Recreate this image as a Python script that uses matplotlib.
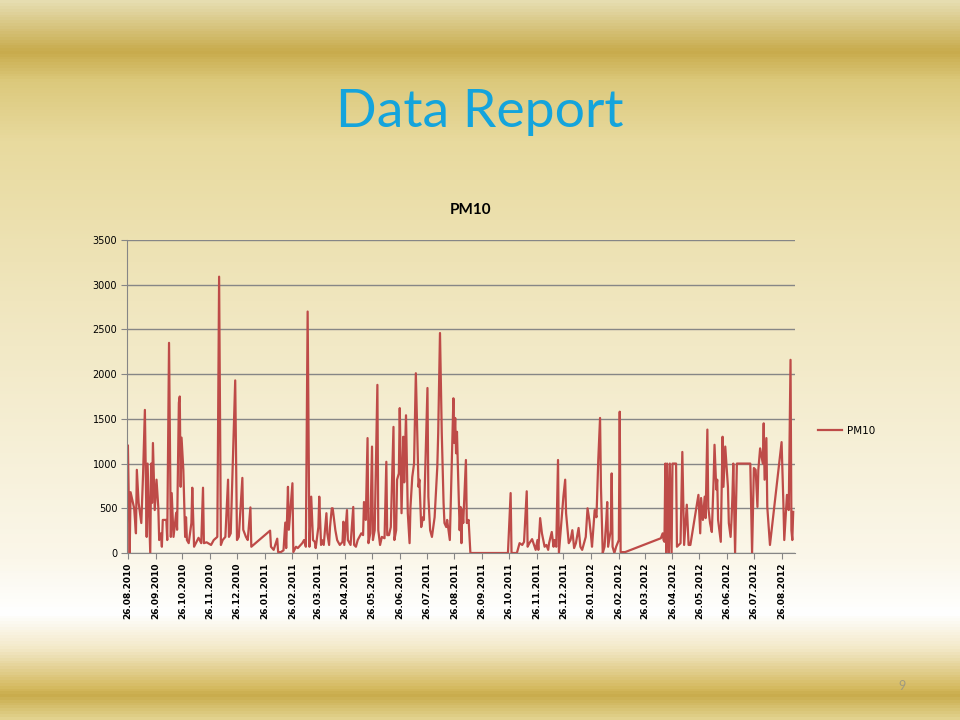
import datetime as dt
import numpy as np
import matplotlib
matplotlib.use('Agg')
import matplotlib.pyplot as plt
import matplotlib.dates as mdates
from matplotlib.colors import LinearSegmentedColormap

# ------------- data -------------
start = dt.date(2010, 8, 26)

days = [0, 2, 3, 7, 9, 10, 12, 15, 17, 19, 21, 22, 25, 26, 27, 28, 30, 32, 34, 35,
        37, 38, 39, 43, 44, 46, 48, 49, 51, 54, 55, 57, 58, 59, 60, 62, 64, 65, 66, 68,
        71, 72, 74, 76, 79, 82, 84, 85, 88, 93, 96, 100, 102, 104, 106, 109, 112, 113, 115, 120,
        122, 124, 128, 129, 132, 134, 137, 138, 159, 160, 163, 167, 168, 171, 174, 176, 177, 179, 180, 184,
        185, 188, 190, 195, 197, 199, 201, 203, 205, 207, 209, 210, 213, 214, 216, 217, 219, 222, 223, 225,
        226, 228, 229, 232, 234, 235, 237, 240, 241, 242, 245, 246, 249, 252, 253, 255, 257, 261, 263, 264,
        266, 268, 269, 271, 273, 274, 276, 279, 280, 282, 284, 287, 289, 290, 292, 294, 297, 298, 300, 301,
        303, 304, 306, 308, 309, 311, 312, 313, 315, 316, 318, 320, 322, 325, 326, 328, 330, 331, 335, 336,
        338, 340, 343, 346, 347, 349, 351, 353, 354, 356, 357, 359, 360, 363, 364, 365, 366, 367, 368, 369,
        371, 372, 373, 374, 375, 378, 379, 381, 383, 425, 428, 429, 435, 438, 441, 443, 446, 447, 449, 452,
        453, 456, 458, 459, 461, 463, 466, 468, 470, 471, 474, 476, 477, 479, 481, 482, 485, 487, 489, 490,
        493, 495, 497, 499, 501, 504, 506, 508, 512, 514, 516, 518, 519, 522, 524, 526, 528, 529, 531, 533,
        535, 536, 537, 540, 541, 542, 544, 546, 549, 550, 551, 556, 596, 598, 599, 600, 601, 602, 603, 605,
        606, 608, 609, 613, 614, 618, 620, 622, 625, 627, 629, 638, 640, 641, 643, 645, 646, 648, 649, 651,
        653, 655, 656, 658, 659, 660, 663, 665, 666, 668, 671, 672, 674, 675, 676, 677, 679, 681, 696, 698,
        700, 702, 704, 705, 707, 710, 711, 712, 714, 715, 718, 731, 733, 734, 737, 739, 741, 742, 743, 744]

pm10 = [1200, 0, 680, 500, 220, 930, 560, 335, 890, 1600, 180, 1000, 0, 1000, 560, 1230, 480, 820, 510, 145,
        220, 70, 370, 370, 145, 2350, 180, 670, 180, 450, 260, 1680, 1750, 740, 1290, 930, 180, 400, 145, 110,
        335, 730, 70, 110, 170, 110, 730, 110, 120, 90, 145, 180, 3090, 90, 145, 180, 820, 180, 220, 1930,
        145, 180, 840, 260, 180, 145, 510, 70, 250, 70, 35, 160, 10, 10, 30, 340, 55, 740, 260, 780,
        10, 70, 55, 110, 145, 70, 2700, 70, 630, 145, 125, 55, 290, 630, 90, 145, 90, 445, 220, 90,
        290, 500, 500, 255, 145, 125, 90, 125, 350, 90, 480, 145, 90, 515, 90, 70, 145, 220, 200, 570,
        370, 1285, 110, 220, 1190, 145, 255, 1880, 255, 90, 180, 165, 1020, 200, 200, 290, 1410, 145, 255, 820,
        890, 1620, 445, 1300, 790, 1540, 965, 445, 110, 515, 850, 1000, 2010, 740, 820, 290, 400, 370, 1845, 630,
        255, 180, 400, 965, 1340, 2460, 1340, 560, 335, 290, 370, 220, 145, 1355, 1730, 1230, 1510, 1115, 1355, 965,
        255, 515, 110, 480, 335, 1040, 335, 370, 0, 0, 670, 0, 0, 110, 90, 125, 690, 70, 110, 155,
        125, 35, 145, 35, 390, 220, 70, 90, 35, 110, 235, 70, 145, 70, 1040, 0, 370, 630, 820, 445,
        110, 145, 255, 55, 110, 280, 70, 35, 180, 500, 370, 180, 70, 480, 400, 1040, 1510, 740, 0, 70,
        370, 570, 70, 255, 890, 70, 0, 70, 145, 1580, 10, 10, 165, 220, 145, 125, 1000, 0, 1000, 0,
        1000, 0, 1000, 1000, 70, 110, 1130, 90, 540, 90, 90, 650, 220, 615, 370, 630, 390, 1380, 515, 335,
        235, 820, 1210, 710, 820, 370, 125, 1300, 740, 1190, 740, 335, 180, 370, 630, 1000, 0, 1000, 1000, 0,
        950, 930, 515, 930, 1170, 1000, 1450, 820, 1285, 515, 90, 1240, 560, 145, 650, 480, 2160, 255, 145, 460]

dates = [start + dt.timedelta(days=d) for d in days]

# slide background gradient stops (pixel row, colour)
bg_rows = [0, 50, 80, 140, 300, 560, 615, 650, 690, 697, 720]
bg_colors = ['#E6DDB0', '#C8AB4C', '#DCC97C', '#E8DA9E', '#F0E6BE', '#FBF7EA',
             '#FFFFFF', '#F3E9C8', '#D4B95E', '#C9AC4C', '#E2D28E']

# ------------- figure -------------
fig = plt.figure(figsize=(9.6, 7.2), dpi=100)

bg = fig.add_axes([0, 0, 1, 1])
cmap = LinearSegmentedColormap.from_list(
    'slide', [(r / 720, c) for r, c in zip(bg_rows, bg_colors)])
grad = np.linspace(0, 1, 720).reshape(-1, 1)
bg.imshow(grad, cmap=cmap, aspect='auto', extent=[0, 1, 0, 1], origin='upper')
bg.set_axis_off()

fig.text(0.5, 1 - 112 / 720, 'Data Report', ha='center', va='center',
         fontsize=38.5, color='#14A4DC', family='Lato')
fig.text(471 / 960, 1 - 210 / 720, 'PM10', ha='center', va='center',
         fontsize=11, fontweight='bold', color='black', family='Lato')
fig.text(902 / 960, 1 - 686 / 720, '9', ha='center', va='center',
         fontsize=9, color='#A09A80', family='Lato')

ax = fig.add_axes([127 / 960, 1 - 553 / 720, 668 / 960, 313 / 720])
ax.patch.set_alpha(0)
ax.plot(dates, pm10, color='#BE4B48', lw=1.6, label='PM10')

ax.set_ylim(0, 3500)
ax.set_yticks(np.arange(0, 3501, 500))
ax.set_xlim(start - dt.timedelta(days=1), start + dt.timedelta(days=746))
ax.xaxis.set_major_locator(mdates.MonthLocator(bymonthday=26))
ax.xaxis.set_major_formatter(mdates.DateFormatter('%d.%m.%Y'))
ax.grid(axis='y', color='#868686', lw=1)
ax.set_axisbelow(True)

for s in ['top', 'right']:
    ax.spines[s].set_visible(False)
for s in ['left', 'bottom']:
    ax.spines[s].set_color('#868686')
ax.tick_params(axis='both', colors='#868686', length=4, width=0.8)
ax.tick_params(axis='y', labelsize=7, labelcolor='black', pad=3)
ax.tick_params(axis='x', labelsize=6.5, labelcolor='black', labelrotation=90, pad=3)
for lbl in ax.get_xticklabels():
    lbl.set_fontweight('bold')

ax.legend(loc='center left', bbox_to_anchor=(1.02, 0.39), frameon=False,
          fontsize=7.5, handlelength=2.3, handletextpad=0.5)

fig.savefig('out.png', dpi=100)
